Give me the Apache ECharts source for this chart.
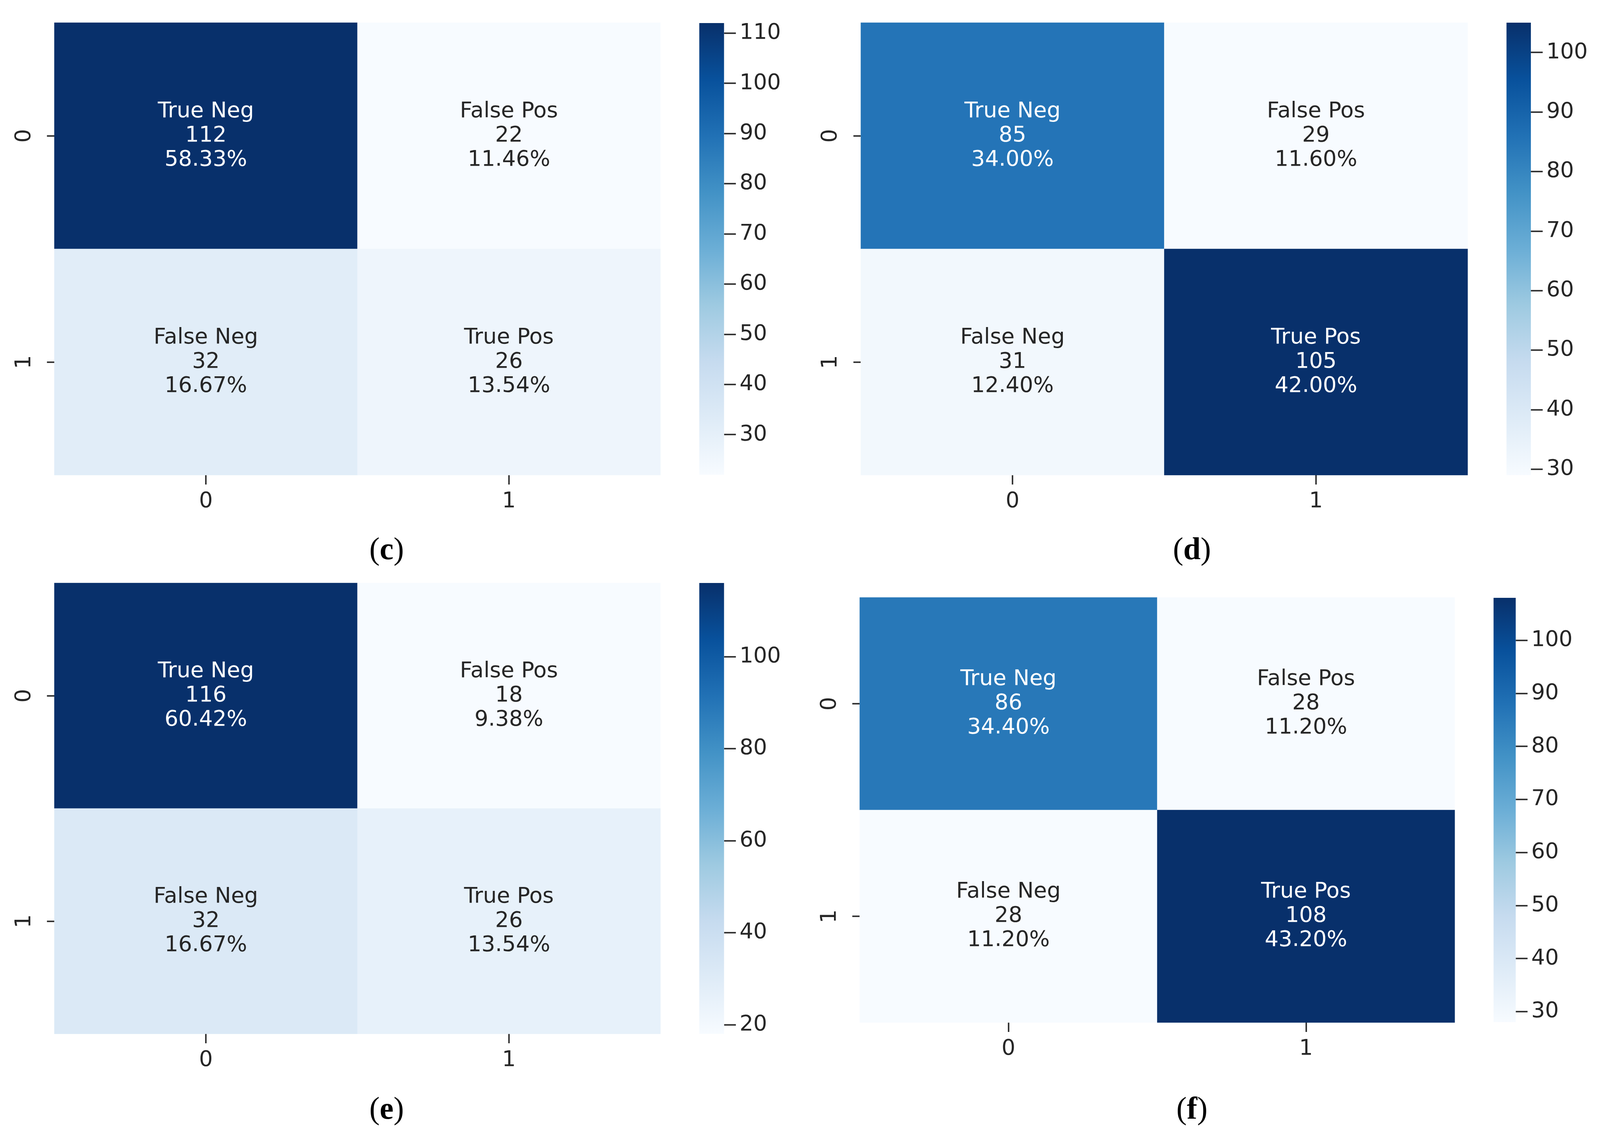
<!DOCTYPE html>
<html><head><meta charset="utf-8">
<script src="https://cdn.jsdelivr.net/npm/echarts@6/dist/echarts.min.js"></script>
<style>html,body{margin:0;padding:0;background:#fff;overflow:hidden}#c{width:100vw;height:100vh}</style>
</head><body><div id="c"></div>
<script>
// ---- data ----
const rowLabels = ['0', '1'];
const colLabels = ['0', '1'];
const cellNames = ['True Neg', 'False Pos', 'False Neg', 'True Pos'];
const panelTags = ['c', 'd', 'e', 'f'];
const countsC = [112, 22, 32, 26];
const countsD = [85, 29, 31, 105];
const countsE = [116, 18, 32, 26];
const countsF = [86, 28, 28, 108];
const pctC = ['58.33', '11.46', '16.67', '13.54'];
const pctD = ['34.00', '11.60', '12.40', '42.00'];
const pctE = ['60.42', '9.38', '16.67', '13.54'];
const pctF = ['34.40', '11.20', '11.20', '43.20'];
const ticksC = [30, 40, 50, 60, 70, 80, 90, 100, 110];
const ticksD = [30, 40, 50, 60, 70, 80, 90, 100];
const ticksE = [20, 40, 60, 80, 100];
const ticksF = [30, 40, 50, 60, 70, 80, 90, 100];
const blues = ['#f7fbff','#deebf7','#c6dbef','#9ecae1','#6baed6','#4292c6','#2171b5','#08519c','#08306b'];

// ---- layout / style (designed for a 4329 x 2915 page, scaled to the viewport) ----
const el = document.getElementById('c');
const W = el.clientWidth || window.innerWidth, H = el.clientHeight || window.innerHeight;
const sx = W / 4329, sy = H / 2915, sf = Math.sqrt(sx * sy);
const FONT = "'DejaVu Sans', sans-serif";
const TXT = '#262626';
const FS = 57 * sf;
const layout = [
  { hm: [147, 58, 1640, 1158], cb: [1892, 59, 67, 1156], cap: [1046, 1410] },
  { hm: [2329, 58, 1642, 1158], cb: [4076, 58, 66, 1158], cap: [3225, 1410] },
  { hm: [147, 1492, 1640, 1154], cb: [1892, 1492, 67, 1154], cap: [1046, 2842] },
  { hm: [2326, 1529, 1610, 1088], cb: [4041, 1530, 60, 1086], cap: [3225, 2842] }
];
const box = b => ({left: b[0] * sx, top: b[1] * sy, width: b[2] * sx, height: b[3] * sy, containLabel: false});

const panels = [
  {counts: countsC, pct: pctC, ticks: ticksC},
  {counts: countsD, pct: pctD, ticks: ticksD},
  {counts: countsE, pct: pctE, ticks: ticksE},
  {counts: countsF, pct: pctF, ticks: ticksF}
];

const grid = [], xAxis = [], yAxis = [], series = [], visualMap = [], graphic = [];
const tickStyle = {color: '#333', width: 4 * sf};

panels.forEach((p, i) => {
  const L = layout[i];
  const vmin = Math.min(...p.counts), vmax = Math.max(...p.counts);
  grid.push(box(L.hm));
  grid.push(box(L.cb));

  xAxis.push({
    type: 'category', gridIndex: 2 * i, data: colLabels,
    axisLine: {show: false},
    axisTick: {show: true, alignWithLabel: true, length: 24 * sy, lineStyle: tickStyle},
    axisLabel: {fontSize: FS, color: TXT, fontFamily: FONT, margin: 40 * sy},
    splitLine: {show: false}, splitArea: {show: false}
  });
  xAxis.push({type: 'category', gridIndex: 2 * i + 1, data: ['cb'], show: false});

  yAxis.push({
    type: 'category', gridIndex: 2 * i, data: rowLabels, inverse: true,
    axisLine: {show: false},
    axisTick: {show: true, alignWithLabel: true, length: 20 * sx, lineStyle: tickStyle},
    axisLabel: {fontSize: FS, color: TXT, fontFamily: FONT, rotate: 90, margin: 52 * sx},
    splitLine: {show: false}, splitArea: {show: false}
  });
  yAxis.push({
    type: 'value', gridIndex: 2 * i + 1, min: vmin, max: vmax, position: 'right',
    axisLine: {show: false}, splitLine: {show: false},
    axisTick: {show: true, length: 32 * sx, customValues: p.ticks, lineStyle: tickStyle},
    axisLabel: {customValues: p.ticks, fontSize: FS, color: TXT, fontFamily: FONT, margin: 42 * sx}
  });

  const data = p.counts.map((v, k) => {
    const r = Math.floor(k / 2), c = k % 2;
    const t = (v - vmin) / (vmax - vmin);
    return {value: [c, r, v], nm: cellNames[k], pct: p.pct[k],
            label: {color: t > 0.55 ? '#ffffff' : TXT}};
  });
  const hmIndex = series.length;
  series.push({
    type: 'heatmap', xAxisIndex: 2 * i, yAxisIndex: 2 * i, data: data,
    label: {
      show: true, fontSize: FS, lineHeight: 62 * sy, fontFamily: FONT, textBorderWidth: 0,
      formatter: q => q.data.nm + '\n' + q.data.value[2] + '\n' + q.data.pct + '%'
    },
    itemStyle: {borderWidth: 0},
    emphasis: {disabled: true}
  });
  visualMap.push({type: 'continuous', show: false, seriesIndex: hmIndex, dimension: 2,
                  min: vmin, max: vmax, inRange: {color: blues}});

  const stops = blues.slice().reverse().map((col, k) => ({offset: k / (blues.length - 1), color: col}));
  series.push({
    type: 'bar', xAxisIndex: 2 * i + 1, yAxisIndex: 2 * i + 1, stack: 'cb' + i,
    data: [vmin], barWidth: '100%', silent: true,
    itemStyle: {color: 'rgba(0,0,0,0)'}
  });
  series.push({
    type: 'bar', xAxisIndex: 2 * i + 1, yAxisIndex: 2 * i + 1, stack: 'cb' + i,
    data: [vmax - vmin], barWidth: '100%', silent: true,
    itemStyle: {color: new echarts.graphic.LinearGradient(0, 0, 0, 1, stops)}
  });

  graphic.push({
    type: 'text', x: L.cap[0] * sx, y: L.cap[1] * sy,
    style: {
      text: '{p|(}{b|' + panelTags[i] + '}{p|)}',
      align: 'center', verticalAlign: 'middle',
      rich: {
        p: {fontFamily: "'Liberation Serif', serif", fontSize: 82 * sf, fontWeight: 'normal', fill: '#000'},
        b: {fontFamily: "'Liberation Serif', serif", fontSize: 82 * sf, fontWeight: 'bold', fill: '#000'}
      }
    }
  });
});

const chart = echarts.init(el, null, {renderer: 'canvas', width: W, height: H});
chart.setOption({
  backgroundColor: '#ffffff',
  animation: false,
  grid, xAxis, yAxis, series, visualMap, graphic
});
</script></body></html>
